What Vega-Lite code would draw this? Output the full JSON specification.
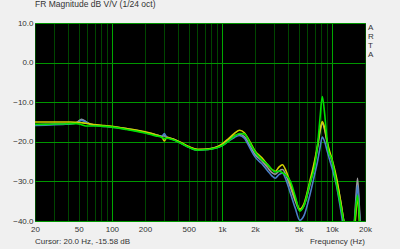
{
"$schema": "https://vega.github.io/schema/vega-lite/v6.json",
"width": 330, "height": 198,
"autosize": {"type": "none"},
"padding": {"left": 35, "top": 23, "right": 35, "bottom": 28},
"background": "#f0f0f0",
"config": {
  "view": {"fill": "#000000", "stroke": "#4b7d4b", "strokeWidth": 1},
  "font": "Liberation Sans",
  "axis": {"labelFont": "Liberation Sans", "labelFontSize": 8, "labelColor": "#333333", "ticks": false, "domain": false, "gridOpacity": 1, "gridWidth": 1}
},
"title": {"text": "FR Magnitude dB V/V (1/24 oct)", "anchor": "start", "frame": "group", "fontSize": 8.5, "fontWeight": "normal", "color": "#333333", "font": "Liberation Sans", "baseline": "alphabetic", "offset": 4},
"encoding": {
  "x": {"field": "f", "type": "quantitative",
        "scale": {"type": "log", "domain": [20, 20000], "nice": false},
        "axis": {"values": [20,30,40,50,60,70,80,90,100,200,300,400,500,600,700,800,900,1000,2000,3000,4000,5000,6000,7000,8000,9000,10000,20000],
                 "grid": true,
                 "gridColor": {"condition": {"test": "datum.value === 100 || datum.value === 1000 || datum.value === 10000", "value": "#00a800"}, "value": "#004600"},
                 "labelExpr": "indexof([20,50,100,200,500,1000,2000,5000,10000,20000], datum.value) >= 0 ? (datum.value >= 1000 ? (datum.value / 1000) + 'k' : '' + datum.value) : ''",
                 "labelFlush": false, "labelPadding": 4, "labelOverlap": false, "title": null}},
  "y": {"field": "db", "type": "quantitative",
        "scale": {"domain": [-40, 10], "nice": false},
        "axis": {"values": [10,0,-10,-20,-30,-40], "format": ".1f", "gridColor": "#009600", "labelPadding": 2, "labelOverlap": false, "labelFlush": false, "title": null}}
},
"layer": [
{
"data": {"values": [
{"s":"grey","f":20,"db":-15.7},{"s":"grey","f":25,"db":-15.6},{"s":"grey","f":30,"db":-15.5},{"s":"grey","f":36,"db":-15.5},{"s":"grey","f":42,"db":-15.4},{"s":"grey","f":48,"db":-15.1},{"s":"grey","f":53,"db":-14.3},{"s":"grey","f":58,"db":-14.9},{"s":"grey","f":64,"db":-15.6},{"s":"grey","f":72,"db":-15.8},{"s":"grey","f":85,"db":-16.0},{"s":"grey","f":100,"db":-16.2},{"s":"grey","f":130,"db":-16.6},{"s":"grey","f":165,"db":-17.1},{"s":"grey","f":200,"db":-17.6},{"s":"grey","f":250,"db":-18.2},{"s":"grey","f":285,"db":-18.6},{"s":"grey","f":300,"db":-18.5},{"s":"grey","f":315,"db":-18.8},{"s":"grey","f":360,"db":-19.3},{"s":"grey","f":420,"db":-20.2},{"s":"grey","f":500,"db":-21.3},{"s":"grey","f":600,"db":-22.0},{"s":"grey","f":700,"db":-21.9},{"s":"grey","f":800,"db":-21.7},{"s":"grey","f":900,"db":-21.3},{"s":"grey","f":1000,"db":-20.7},{"s":"grey","f":1150,"db":-19.4},{"s":"grey","f":1300,"db":-18.5},{"s":"grey","f":1450,"db":-18.1},{"s":"grey","f":1600,"db":-18.7},{"s":"grey","f":1800,"db":-21.0},{"s":"grey","f":2000,"db":-23.2},{"s":"grey","f":2300,"db":-24.8},{"s":"grey","f":2600,"db":-26.5},{"s":"grey","f":2850,"db":-27.8},{"s":"grey","f":3050,"db":-28.2},{"s":"grey","f":3300,"db":-27.4},{"s":"grey","f":3550,"db":-27.0},{"s":"grey","f":3850,"db":-28.6},{"s":"grey","f":4200,"db":-31.5},{"s":"grey","f":4650,"db":-35.0},{"s":"grey","f":5100,"db":-37.3},{"s":"grey","f":5600,"db":-36.0},{"s":"grey","f":6300,"db":-31.0},{"s":"grey","f":7000,"db":-25.0},{"s":"grey","f":7400,"db":-21.5},{"s":"grey","f":7800,"db":-17.5},{"s":"grey","f":8180,"db":-15.3},{"s":"grey","f":8600,"db":-17.0},{"s":"grey","f":9000,"db":-19.8},{"s":"grey","f":9300,"db":-21.8},{"s":"grey","f":10000,"db":-24.8},{"s":"grey","f":11000,"db":-29.5},{"s":"grey","f":12000,"db":-35.0},{"s":"grey","f":13000,"db":-41},{"s":"grey","f":14000,"db":-45},{"s":"grey","f":15500,"db":-45},{"s":"grey","f":16300,"db":-37},{"s":"grey","f":17100,"db":-29.2},{"s":"grey","f":17900,"db":-38},{"s":"grey","f":18800,"db":-45},{"s":"grey","f":20000,"db":-45},
{"s":"blue","f":20,"db":-15.9},{"s":"blue","f":25,"db":-15.8},{"s":"blue","f":30,"db":-15.7},{"s":"blue","f":36,"db":-15.6},{"s":"blue","f":42,"db":-15.5},{"s":"blue","f":48,"db":-15.2},{"s":"blue","f":53,"db":-14.6},{"s":"blue","f":58,"db":-15.0},{"s":"blue","f":64,"db":-15.6},{"s":"blue","f":72,"db":-15.9},{"s":"blue","f":85,"db":-16.1},{"s":"blue","f":100,"db":-16.3},{"s":"blue","f":130,"db":-16.7},{"s":"blue","f":165,"db":-17.2},{"s":"blue","f":200,"db":-17.7},{"s":"blue","f":250,"db":-18.3},{"s":"blue","f":285,"db":-18.6},{"s":"blue","f":300,"db":-17.9},{"s":"blue","f":315,"db":-18.9},{"s":"blue","f":360,"db":-19.4},{"s":"blue","f":420,"db":-20.3},{"s":"blue","f":500,"db":-21.4},{"s":"blue","f":600,"db":-22.1},{"s":"blue","f":700,"db":-22.0},{"s":"blue","f":800,"db":-21.8},{"s":"blue","f":900,"db":-21.5},{"s":"blue","f":1000,"db":-21.0},{"s":"blue","f":1150,"db":-19.8},{"s":"blue","f":1300,"db":-18.9},{"s":"blue","f":1450,"db":-18.4},{"s":"blue","f":1600,"db":-19.1},{"s":"blue","f":1800,"db":-21.6},{"s":"blue","f":2000,"db":-23.8},{"s":"blue","f":2300,"db":-25.5},{"s":"blue","f":2600,"db":-27.3},{"s":"blue","f":2850,"db":-28.6},{"s":"blue","f":3050,"db":-29.2},{"s":"blue","f":3300,"db":-28.3},{"s":"blue","f":3550,"db":-27.9},{"s":"blue","f":3850,"db":-29.8},{"s":"blue","f":4200,"db":-33.0},{"s":"blue","f":4650,"db":-36.8},{"s":"blue","f":5100,"db":-39.8},{"s":"blue","f":5600,"db":-38.5},{"s":"blue","f":6300,"db":-33.5},{"s":"blue","f":7000,"db":-28.0},{"s":"blue","f":7400,"db":-25.0},{"s":"blue","f":7800,"db":-21.5},{"s":"blue","f":8180,"db":-18.8},{"s":"blue","f":8600,"db":-20.0},{"s":"blue","f":9000,"db":-22.0},{"s":"blue","f":9300,"db":-23.5},{"s":"blue","f":10000,"db":-26.5},{"s":"blue","f":11000,"db":-31},{"s":"blue","f":12000,"db":-37},{"s":"blue","f":13000,"db":-43},{"s":"blue","f":14000,"db":-45},{"s":"blue","f":15500,"db":-45},{"s":"blue","f":16300,"db":-39},{"s":"blue","f":17100,"db":-31.0},{"s":"blue","f":17900,"db":-39},{"s":"blue","f":18800,"db":-45},{"s":"blue","f":20000,"db":-45},
{"s":"yellow","f":20,"db":-15.0},{"s":"yellow","f":25,"db":-15.0},{"s":"yellow","f":30,"db":-15.0},{"s":"yellow","f":36,"db":-15.0},{"s":"yellow","f":42,"db":-15.0},{"s":"yellow","f":48,"db":-15.1},{"s":"yellow","f":53,"db":-15.2},{"s":"yellow","f":58,"db":-15.3},{"s":"yellow","f":64,"db":-15.5},{"s":"yellow","f":72,"db":-15.7},{"s":"yellow","f":85,"db":-15.9},{"s":"yellow","f":100,"db":-16.1},{"s":"yellow","f":130,"db":-16.6},{"s":"yellow","f":165,"db":-17.0},{"s":"yellow","f":200,"db":-17.5},{"s":"yellow","f":250,"db":-18.2},{"s":"yellow","f":285,"db":-18.8},{"s":"yellow","f":300,"db":-19.8},{"s":"yellow","f":315,"db":-18.9},{"s":"yellow","f":360,"db":-19.3},{"s":"yellow","f":420,"db":-20.1},{"s":"yellow","f":500,"db":-21.2},{"s":"yellow","f":600,"db":-21.9},{"s":"yellow","f":700,"db":-21.9},{"s":"yellow","f":800,"db":-21.7},{"s":"yellow","f":900,"db":-21.3},{"s":"yellow","f":1000,"db":-20.6},{"s":"yellow","f":1150,"db":-19.2},{"s":"yellow","f":1300,"db":-17.9},{"s":"yellow","f":1450,"db":-17.1},{"s":"yellow","f":1600,"db":-17.7},{"s":"yellow","f":1800,"db":-20.0},{"s":"yellow","f":2000,"db":-22.3},{"s":"yellow","f":2300,"db":-24.0},{"s":"yellow","f":2600,"db":-25.8},{"s":"yellow","f":2850,"db":-27.0},{"s":"yellow","f":3050,"db":-27.5},{"s":"yellow","f":3300,"db":-26.4},{"s":"yellow","f":3550,"db":-25.8},{"s":"yellow","f":3850,"db":-27.5},{"s":"yellow","f":4200,"db":-30.5},{"s":"yellow","f":4650,"db":-34.3},{"s":"yellow","f":5100,"db":-37.0},{"s":"yellow","f":5600,"db":-35.5},{"s":"yellow","f":6300,"db":-30.0},{"s":"yellow","f":7000,"db":-24.5},{"s":"yellow","f":7400,"db":-21.0},{"s":"yellow","f":7800,"db":-17.0},{"s":"yellow","f":8180,"db":-14.9},{"s":"yellow","f":8600,"db":-16.6},{"s":"yellow","f":9000,"db":-19.5},{"s":"yellow","f":9300,"db":-21.3},{"s":"yellow","f":10000,"db":-24.3},{"s":"yellow","f":11000,"db":-29.0},{"s":"yellow","f":12000,"db":-35.0},{"s":"yellow","f":13000,"db":-41},{"s":"yellow","f":14000,"db":-45},{"s":"yellow","f":15500,"db":-45},{"s":"yellow","f":16300,"db":-40},{"s":"yellow","f":17100,"db":-34},{"s":"yellow","f":17900,"db":-41},{"s":"yellow","f":18800,"db":-45},{"s":"yellow","f":20000,"db":-45},
{"s":"green","f":20,"db":-15.6},{"s":"green","f":25,"db":-15.6},{"s":"green","f":30,"db":-15.5},{"s":"green","f":36,"db":-15.5},{"s":"green","f":42,"db":-15.4},{"s":"green","f":48,"db":-15.4},{"s":"green","f":53,"db":-15.7},{"s":"green","f":58,"db":-16.0},{"s":"green","f":64,"db":-16.0},{"s":"green","f":72,"db":-16.0},{"s":"green","f":85,"db":-16.1},{"s":"green","f":100,"db":-16.3},{"s":"green","f":130,"db":-16.8},{"s":"green","f":165,"db":-17.3},{"s":"green","f":200,"db":-17.8},{"s":"green","f":250,"db":-18.5},{"s":"green","f":285,"db":-18.9},{"s":"green","f":300,"db":-19.2},{"s":"green","f":315,"db":-19.1},{"s":"green","f":360,"db":-19.5},{"s":"green","f":420,"db":-20.3},{"s":"green","f":500,"db":-21.4},{"s":"green","f":600,"db":-22.1},{"s":"green","f":700,"db":-22.0},{"s":"green","f":800,"db":-21.8},{"s":"green","f":900,"db":-21.5},{"s":"green","f":1000,"db":-21.0},{"s":"green","f":1150,"db":-19.8},{"s":"green","f":1300,"db":-18.6},{"s":"green","f":1450,"db":-17.9},{"s":"green","f":1600,"db":-18.0},{"s":"green","f":1800,"db":-20.3},{"s":"green","f":2000,"db":-22.5},{"s":"green","f":2300,"db":-24.5},{"s":"green","f":2600,"db":-25.7},{"s":"green","f":2850,"db":-27.0},{"s":"green","f":3050,"db":-27.6},{"s":"green","f":3300,"db":-27.4},{"s":"green","f":3550,"db":-27.8},{"s":"green","f":3850,"db":-28.5},{"s":"green","f":4200,"db":-30.0},{"s":"green","f":4650,"db":-33.8},{"s":"green","f":5100,"db":-37.5},{"s":"green","f":5600,"db":-36.0},{"s":"green","f":6300,"db":-30.5},{"s":"green","f":7000,"db":-26.0},{"s":"green","f":7400,"db":-21.0},{"s":"green","f":7800,"db":-14.0},{"s":"green","f":8180,"db":-8.6},{"s":"green","f":8600,"db":-13.0},{"s":"green","f":9000,"db":-19.0},{"s":"green","f":9300,"db":-22.3},{"s":"green","f":10000,"db":-24.5},{"s":"green","f":11000,"db":-30.5},{"s":"green","f":12000,"db":-36.0},{"s":"green","f":13000,"db":-41},{"s":"green","f":14000,"db":-45},{"s":"green","f":15500,"db":-45},{"s":"green","f":16300,"db":-38},{"s":"green","f":17100,"db":-33.5},{"s":"green","f":17900,"db":-40},{"s":"green","f":18800,"db":-45},{"s":"green","f":20000,"db":-45}
]},
"mark": {"type": "line", "clip": true, "strokeWidth": 1.6, "interpolate": "monotone"},
"encoding": {
  "color": {"field": "s", "type": "nominal",
            "scale": {"domain": ["grey","blue","yellow","green"], "range": ["#9a9a9a","#4a80c8","#d2d200","#00e000"]},
            "legend": null}
}
},
{
"data": {"values": [{"t": "Cursor: 20.0 Hz, -15.58 dB", "f": 20, "db": -40}]},
"mark": {"type": "text", "align": "left", "baseline": "alphabetic", "dy": 23, "fontSize": 8, "color": "#333333", "font": "Liberation Sans", "clip": false},
"encoding": {"text": {"field": "t"}}
},
{
"data": {"values": [{"t": "Frequency (Hz)", "f": 20000, "db": -40}]},
"mark": {"type": "text", "align": "right", "baseline": "alphabetic", "dy": 23, "fontSize": 8, "color": "#333333", "font": "Liberation Sans", "clip": false},
"encoding": {"text": {"field": "t"}}
},
{
"data": {"values": [{"t": "A\nR\nT\nA", "f": 20000, "db": 10}]},
"mark": {"type": "text", "align": "left", "baseline": "alphabetic", "dx": 3, "dy": 7, "lineBreak": "\n", "lineHeight": 9, "fontSize": 8, "color": "#333333", "font": "Liberation Sans", "clip": false},
"encoding": {"text": {"field": "t"}}
}
]
}
